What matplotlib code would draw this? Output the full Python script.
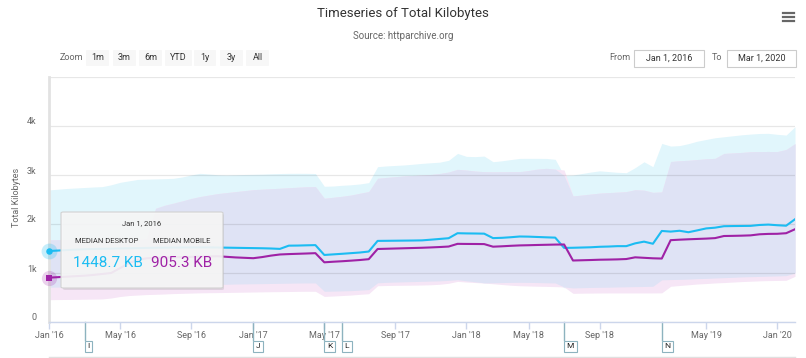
import matplotlib
matplotlib.use('Agg')
import matplotlib.pyplot as plt
from matplotlib import font_manager
from matplotlib.patches import FancyBboxPatch, Rectangle
from matplotlib.lines import Line2D
import matplotlib.transforms as mtrans
import numpy as np

# ---------------- data ----------------
# observation dates (ordinal axis, as in Highstock): semi-monthly 2016-2018, monthly from 2019
missing = ['2016-12-01', '2018-02-15']
dates = []
for yr in (2016, 2017, 2018):
    for m in range(1, 13):
        for d in (1, 15):
            s = f'{yr}-{m:02d}-{d:02d}'
            if s not in missing:
                dates.append(s)
for yr, months in ((2019, range(1, 13)), (2020, range(1, 4))):
    for m in months:
        dates.append(f'{yr}-{m:02d}-01')

desktop_median = [1448.7, 1458, 1468, 1476, 1485, 1490, 1494, 1498, 1502, 1505,
                  1508, 1512, 1515, 1517, 1519, 1520, 1521, 1522, 1522, 1520,
                  1517, 1514, 1511, 1508, 1505, 1500, 1492, 1558, 1560, 1565,
                  1569, 1368, 1380, 1392, 1405, 1418, 1438, 1655, 1657, 1659,
                  1661, 1663, 1666, 1680, 1695, 1710, 1812, 1808, 1806, 1803,
                  1712, 1718, 1730, 1745, 1742, 1735, 1728, 1722, 1512, 1515,
                  1520, 1525, 1535, 1540, 1548, 1548, 1605, 1640, 1597, 1858,
                  1845, 1862, 1832, 1870, 1910, 1925, 1955, 1958, 1960, 1962,
                  1980, 1988, 1975, 1965, 2097]
mobile_median = [905.3, 915, 925, 935, 945, 960, 980, 1000, 1100, 1200,
                 1270, 1300, 1310, 1315, 1320, 1325, 1330, 1335, 1338, 1342,
                 1330, 1318, 1310, 1302, 1325, 1355, 1378, 1386, 1392, 1398,
                 1405, 1218, 1230, 1240, 1252, 1265, 1282, 1490, 1495, 1500,
                 1505, 1510, 1515, 1522, 1530, 1540, 1595, 1593, 1592, 1590,
                 1537, 1545, 1555, 1563, 1567, 1572, 1576, 1580, 1582, 1255,
                 1260, 1265, 1271, 1274, 1278, 1285, 1320, 1310, 1300, 1295,
                 1670, 1680, 1688, 1695, 1702, 1712, 1755, 1758, 1762, 1768,
                 1790, 1798, 1800, 1812, 1893]
desktop_high = [2695, 2710, 2725, 2735, 2745, 2755, 2763, 2800, 2850, 2880,
                2910, 2915, 2920, 2925, 2932, 2960, 3000, 3034, 3020, 3005,
                3000, 3005, 3010, 3014, 3018, 3025, 3030, 3034, 3035, 3034,
                3030, 2770, 2775, 2790, 2800, 2817, 2844, 3170, 3185, 3195,
                3205, 3220, 3237, 3250, 3262, 3300, 3440, 3380, 3375, 3386,
                3271, 3290, 3315, 3339, 3340, 3340, 3338, 3320, 2990, 3000,
                3030, 3060, 3085, 3070, 3055, 3047, 3150, 3270, 3170, 3644,
                3590, 3600, 3640, 3690, 3725, 3760, 3780, 3800, 3820, 3835,
                3847, 3850, 3830, 3815, 3985]
desktop_low = [710, 712, 715, 718, 720, 722, 725, 727, 728, 729,
               730, 735, 740, 745, 750, 755, 760, 763, 765, 768,
               770, 775, 778, 780, 783, 786, 789, 792, 795, 797,
               797, 627, 630, 635, 640, 650, 661, 800, 810, 815,
               820, 825, 830, 835, 840, 850, 863, 840, 820, 800,
               800, 805, 808, 810, 808, 805, 800, 797, 700, 695,
               700, 705, 708, 710, 715, 718, 722, 725, 729, 860,
               866, 870, 875, 885, 890, 898, 905, 912, 920, 925,
               930, 935, 940, 946, 1000]
mobile_high = [1678, 1680, 1682, 1680, 1678, 1680, 1682, 1684, 1682, 1680,
               1680, 1700, 2320, 2380, 2424, 2470, 2520, 2559, 2590, 2620,
               2640, 2660, 2680, 2700, 2710, 2720, 2729, 2740, 2750, 2760,
               2763, 2525, 2545, 2565, 2590, 2627, 2661, 2932, 2950, 2965,
               2980, 2990, 3000, 3010, 3030, 3060, 3115, 3100, 3080, 3068,
               3065, 3066, 3068, 3068, 3090, 3120, 3136, 3120, 3102, 2573,
               2590, 2610, 2630, 2640, 2650, 2660, 2700, 2690, 2645, 2655,
               3275, 3290, 3300, 3315, 3330, 3340, 3440, 3450, 3460, 3475,
               3478, 3480, 3478, 3520, 3640]
mobile_low = [455, 458, 460, 462, 465, 468, 471, 490, 520, 540,
              550, 560, 565, 572, 580, 585, 590, 595, 598, 600,
              603, 606, 609, 612, 615, 618, 620, 622, 625, 627,
              627, 522, 530, 540, 550, 565, 577, 740, 745, 748,
              750, 752, 755, 760, 770, 790, 829, 815, 805, 795,
              780, 765, 750, 740, 735, 730, 727, 722, 715, 585,
              588, 590, 592, 593, 593, 593, 593, 593, 593, 595,
              729, 745, 760, 775, 785, 797, 805, 815, 825, 832,
              840, 845, 848, 851, 932]

tick_dates = ['2016-01-01', '2016-05-01', '2016-09-01', '2017-01-01', '2017-05-01',
              '2017-09-01', '2018-01-01', '2018-05-01', '2018-09-01', '2019-05-01',
              '2020-01-01']
tick_labels = ["Jan '16", "May '16", "Sep '16", "Jan '17", "May '17", "Sep '17",
               "Jan '18", "May '18", "Sep '18", "May '19", "Jan '20"]
y_ticks = [0, 1000, 2000, 3000, 4000, 5000]
y_tick_labels = ['0', '1k', '2k', '3k', '4k', '']
flag_dates = ['2016-03-01', '2017-01-01', '2017-05-01', '2017-06-01', '2018-07-01', '2018-12-15']
flag_letters = ['I', 'J', 'K', 'L', 'M', 'N']
zoom_buttons = ['1m', '3m', '6m', 'YTD', '1y', '3y', 'All']

# ---------------- style ----------------
names = {f.name for f in font_manager.fontManager.ttflist}
FONT = 'Liberation Sans Narrow' if 'Liberation Sans Narrow' in names else 'Roboto'
plt.rcParams['font.family'] = [FONT, 'DejaVu Sans']

CYAN = '#1cbcf2'
PURPLE = '#9f22a6'
DESK_BAND = '#e1f6fc'
MOB_BAND = '#f6e6f6'
BOTH_BAND = '#dfe3f5'

W, H = 806, 358
fig = plt.figure(figsize=(W / 100, H / 100), dpi=100)
fig.patch.set_facecolor('white')

def fx(x):
    return x / W

def fy(y):
    return 1 - y / H

ax = fig.add_axes([fx(49), fy(322), (795 - 49) / W, (322 - 77) / H])
x = np.arange(len(dates))

d_lo, d_hi = np.array(desktop_low), np.array(desktop_high)
m_lo, m_hi = np.array(mobile_low), np.array(mobile_high)
ax.fill_between(x, d_lo, d_hi, color=DESK_BAND, lw=0, zorder=1)
ax.fill_between(x, m_lo, m_hi, color=MOB_BAND, lw=0, zorder=1.1)
o_lo, o_hi = np.maximum(d_lo, m_lo), np.minimum(d_hi, m_hi)
ax.fill_between(x, o_lo, o_hi, where=o_hi > o_lo, color=BOTH_BAND, lw=0, zorder=1.2)

ax.axvline(0, color='#e2e2e2', lw=2, zorder=2, clip_on=False)
ax.plot(x, desktop_median, color=CYAN, lw=1.5, zorder=3, solid_joinstyle='round')
ax.plot(x, mobile_median, color=PURPLE, lw=1.5, zorder=3, solid_joinstyle='round')

# hover markers
ax.scatter([x[0]], [desktop_median[0]], s=130, color=CYAN, alpha=0.25, lw=0, zorder=4, clip_on=False)
ax.scatter([x[0]], [desktop_median[0]], s=22, color=CYAN, lw=0, zorder=5, clip_on=False)
ax.scatter([x[0]], [mobile_median[0]], s=120, color=PURPLE, alpha=0.2, lw=0, zorder=4, clip_on=False)
ax.scatter([x[0]], [mobile_median[0]], s=16, color=PURPLE, marker='s', lw=0, zorder=5, clip_on=False)

ax.set_xlim(0, len(dates) - 1)
ax.set_ylim(0, 5000)
ax.set_yticks(y_ticks)
ax.set_yticklabels(y_tick_labels)
ax.set_axisbelow('line')
ax.grid(axis='y', color='#000000', alpha=0.095, lw=0.9)
ax.tick_params(axis='y', length=0, pad=9, labelsize=6.5, labelcolor='#666666')
off = mtrans.ScaledTranslation(0, 5 / 100, fig.dpi_scale_trans)
for lab in ax.get_yticklabels():
    lab.set_transform(lab.get_transform() + off)

tick_idx = [dates.index(d) for d in tick_dates]
ax.set_xticks(tick_idx)
ax.set_xticklabels(tick_labels)
ax.tick_params(axis='x', length=5, width=1, color='#ccd6eb', pad=1.5,
               labelsize=6.5, labelcolor='#666666')
for s in ('left', 'right', 'top'):
    ax.spines[s].set_visible(False)
ax.spines['bottom'].set_color('#ccd6eb')
ax.spines['bottom'].set_linewidth(1)
ax.spines['bottom'].set_zorder(2.5)

ax.set_ylabel('Total Kilobytes', fontsize=6.5, color='#666666')
ax.yaxis.set_label_coords((21 - 49) / 746, (322 - 197) / 245)

# flags
trans = mtrans.blended_transform_factory(ax.transData, fig.transFigure)
ttrans = mtrans.offset_copy(trans, fig=fig, x=2.6, y=0, units='dots')
for d, letter in zip(flag_dates, flag_letters):
    i = dates.index(d)
    ax.plot([i, i], [fy(322), fy(340)], transform=trans, color='#8db3bf', lw=1, clip_on=False, zorder=2)
    ax.text(i, fy(346.5), letter, transform=ttrans, ha='left', va='center', fontsize=6,
            color='#222222', clip_on=False,
            bbox=dict(boxstyle='square,pad=0.3', fc='white', ec='#8db3bf', lw=0.8))
fig.add_artist(Line2D([fx(49), fx(795)], [fy(356.5)] * 2, color='#e0e0e0', lw=1))

# title / subtitle
fig.text(fx(403), fy(14), 'Timeseries of Total Kilobytes', ha='center', va='center',
         fontsize=9.5, color='#333333')
fig.text(fx(403), fy(36), 'Source: httparchive.org', ha='center', va='center',
         fontsize=7, color='#666666')

# menu icon
for yy in (12.5, 16.5, 20.5):
    fig.add_artist(Line2D([fx(783), fx(794)], [fy(yy)] * 2, color='#666666', lw=1.6))

# range selector
fig.text(fx(60), fy(58), 'Zoom', ha='left', va='center', fontsize=6.5, color='#666666')
btn_x = [(86, 109), (113, 136), (139, 162), (165, 192), (194, 216), (220, 243), (246, 269)]
for lab, (a, b) in zip(zoom_buttons, btn_x):
    fig.add_artist(FancyBboxPatch((fx(a), fy(66)), fx(b) - fx(a), 16 / H,
                                  boxstyle='round,pad=0,rounding_size=0.002',
                                  transform=fig.transFigure, fc='#f7f7f7', ec='none'))
    fig.text(fx((a + b) / 2), fy(58), lab, ha='center', va='center', fontsize=6.5, color='#333333')

fig.text(fx(630), fy(58), 'From', ha='right', va='center', fontsize=6.5, color='#666666')
fig.add_artist(Rectangle((fx(634), fy(67)), fx(704) - fx(634), 17 / H, transform=fig.transFigure,
                         fc='white', ec='#cccccc', lw=0.8))
fig.text(fx(669), fy(58.5), 'Jan 1, 2016', ha='center', va='center', fontsize=6.5, color='#333333')
fig.text(fx(712), fy(58), 'To', ha='left', va='center', fontsize=6.5, color='#666666')
fig.add_artist(Rectangle((fx(727), fy(67)), fx(796) - fx(727), 17 / H, transform=fig.transFigure,
                         fc='white', ec='#cccccc', lw=0.8))
fig.text(fx(761.5), fy(58.5), 'Mar 1, 2020', ha='center', va='center', fontsize=6.5, color='#333333')

# tooltip
shadow = FancyBboxPatch((fx(63), fy(290)), fx(224) - fx(63), (290 - 214) / H,
                        boxstyle='round,pad=0,rounding_size=0.003', transform=fig.transFigure,
                        fc=(0, 0, 0, 0.09), ec='none', zorder=9)
fig.add_artist(shadow)
tip = FancyBboxPatch((fx(61), fy(288)), fx(223) - fx(61), (288 - 212) / H,
                     boxstyle='round,pad=0,rounding_size=0.003', transform=fig.transFigure,
                     fc=(247/255, 247/255, 247/255, 0.92), ec='#d2d2d2', lw=0.8, zorder=10)
fig.add_artist(tip)
fig.text(fx(142), fy(223), 'Jan 1, 2016', ha='center', va='center', fontsize=5.5,
         color='#333333', zorder=11)
fig.text(fx(107), fy(241), 'MEDIAN DESKTOP', ha='center', va='center', fontsize=5.5,
         color='#333333', zorder=11)
fig.text(fx(182), fy(241), 'MEDIAN MOBILE', ha='center', va='center', fontsize=5.5,
         color='#333333', zorder=11)
fig.text(fx(107.5), fy(263), f'{desktop_median[0]:.1f} KB', ha='center', va='center',
         fontsize=11, color=CYAN, zorder=11)
fig.text(fx(182), fy(263), f'{mobile_median[0]:.1f} KB', ha='center', va='center',
         fontsize=11, color=PURPLE, zorder=11)

fig.savefig('out.png', dpi=100)
